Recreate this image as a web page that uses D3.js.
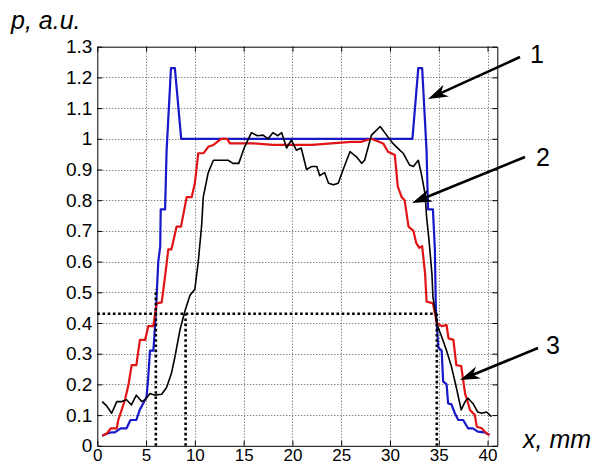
<!DOCTYPE html>
<html>
<head>
<meta charset="utf-8">
<script src="https://cdn.jsdelivr.net/npm/d3@7"></script>
<style>
html,body{margin:0;padding:0;background:#fff;}
svg{display:block;font-family:"Liberation Sans",Arial,sans-serif;}
</style>
</head>
<body>
<svg id="chart" width="594" height="465"></svg>
<script>
// ---- data ----
const xTicks = [0,5,10,15,20,25,30,35,40];
const xTickLabels = ["0","5","10","15","20","25","30","35","40"];
const yTicks = [0,0.1,0.2,0.3,0.4,0.5,0.6,0.7,0.8,0.9,1.0,1.1,1.2,1.3];
const yTickLabels = ["0","0.1","0.2","0.3","0.4","0.5","0.6","0.7","0.8","0.9","1","1.1","1.2","1.3"];

const blueX = [0.5,1.1,1.5,1.8,2.4,3.0,3.4,4.0,4.35,4.7,5.05,5.2,5.4,5.75,5.98,6.25,6.45,6.5,6.95,7.1,7.55,7.95,8.6,32.3,32.9,33.3,33.75,33.9,34.4,34.6,34.7,34.95,35.3,35.45,35.8,35.96,36.3,36.65,37.0,37.5,38.0,38.5,39.0,39.7,40.2];
const blueY = [0.033,0.041,0.044,0.044,0.057,0.057,0.084,0.084,0.117,0.138,0.16,0.214,0.31,0.31,0.42,0.6,0.65,0.77,0.77,0.96,1.23,1.23,1.0,1.0,1.23,1.23,0.96,0.77,0.77,0.64,0.45,0.32,0.31,0.21,0.2,0.138,0.135,0.106,0.084,0.084,0.057,0.057,0.046,0.044,0.035];

const redX = [0.5,0.96,1.1,1.4,2.0,2.15,2.5,2.84,3.2,3.52,4.0,4.37,4.9,5.23,5.74,6.08,6.6,6.94,7.28,7.6,8.13,8.58,9.16,9.67,10.0,10.35,10.9,11.37,11.9,12.7,13.3,13.6,16,18,20,22,24,26,27,28.1,29.3,29.8,30.5,30.8,31.2,31.5,31.9,32.4,32.7,33.0,33.3,33.6,33.75,34.4,34.8,35.3,35.8,36.0,36.5,36.8,37.3,37.7,37.9,38.2,38.7,38.9,39.4,39.9,40.2];
const redY = [0.033,0.04,0.045,0.057,0.057,0.084,0.117,0.15,0.2,0.263,0.263,0.345,0.345,0.39,0.39,0.464,0.467,0.55,0.64,0.64,0.714,0.714,0.81,0.81,0.855,0.953,0.953,0.974,0.98,1.0,1.0,0.985,0.985,0.98,0.98,0.98,0.985,0.99,0.99,1.0,0.985,0.958,0.947,0.844,0.81,0.80,0.714,0.70,0.66,0.645,0.65,0.56,0.47,0.464,0.40,0.39,0.393,0.35,0.345,0.263,0.26,0.17,0.15,0.117,0.10,0.062,0.057,0.04,0.035];

const blackX = [0.5,0.96,1.47,2.0,2.5,3.0,3.5,4.0,4.55,4.9,5.4,5.9,6.6,7.1,7.6,7.96,8.47,8.99,9.5,10.0,10.35,10.7,10.86,11.37,11.9,13.4,13.9,14.5,15.1,15.8,16.4,17.0,17.5,18.0,18.5,18.9,19.4,19.9,20.4,20.9,21.45,22.0,22.5,22.8,23.3,23.7,24.2,24.7,25.2,25.9,26.6,27.1,27.4,28.1,29.0,29.65,30.3,31.0,31.35,32.0,32.4,32.9,33.2,33.6,33.75,34.0,34.3,34.4,34.84,35.3,35.8,36.3,36.8,37.3,37.7,38.0,38.5,39.0,39.4,39.9,40.4];
const blackY = [0.144,0.13,0.106,0.144,0.144,0.15,0.133,0.165,0.144,0.15,0.17,0.165,0.168,0.19,0.236,0.29,0.377,0.44,0.49,0.51,0.6,0.72,0.81,0.89,0.93,0.93,0.92,0.92,0.974,1.02,1.01,1.012,1.0,1.02,1.01,1.02,0.97,0.996,0.963,0.97,0.9,0.91,0.91,0.88,0.89,0.855,0.85,0.855,0.9,0.958,0.94,0.92,0.93,1.012,1.04,1.012,0.985,0.963,0.953,0.915,0.91,0.93,0.888,0.82,0.746,0.67,0.56,0.486,0.393,0.355,0.31,0.258,0.19,0.117,0.144,0.155,0.138,0.11,0.106,0.11,0.095];

// threshold marker lines (dotted)
const levelY = 0.43;
const markX = [6.0, 9.05, 34.8];
const markTop = [0.51, 0.43, 0.43];

// curve number labels
const curveLabels = ["1","2","3"];

// ---- layout ----
const svg = d3.select("#chart");
const L = 97.3, R = 497.3, T = 46.7, B = 445.8;
const x = d3.scaleLinear().domain([0,41]).range([L,R]);
const y = d3.scaleLinear().domain([0,1.3]).range([B,T]);
const fs = 19;

// grid
const grid = svg.append("g").attr("stroke","#555").attr("stroke-width",1).attr("stroke-dasharray","1,2");
grid.selectAll(".gx").data(xTicks.filter(d=>d>0)).join("line")
  .attr("x1",d=>Math.round(x(d))+0.5).attr("x2",d=>Math.round(x(d))+0.5).attr("y1",T).attr("y2",B);
grid.selectAll(".gy").data(yTicks.filter(d=>d>0 && d<1.3)).join("line")
  .attr("y1",d=>Math.round(y(d))+0.5).attr("y2",d=>Math.round(y(d))+0.5).attr("x1",L).attr("x2",R);

// axes
const axB = svg.append("g").attr("transform",`translate(0,${B})`)
  .call(d3.axisBottom(x).tickValues(xTicks).tickFormat((d,i)=>xTickLabels[i]).tickSizeInner(-5).tickSizeOuter(0).tickPadding(3));
const axT = svg.append("g").attr("transform",`translate(0,${T})`)
  .call(d3.axisTop(x).tickValues(xTicks).tickFormat("").tickSizeInner(-5).tickSizeOuter(0));
const axL = svg.append("g").attr("transform",`translate(${L},0)`)
  .call(d3.axisLeft(y).tickValues(yTicks).tickFormat((d,i)=>yTickLabels[i]).tickSizeInner(-5).tickSizeOuter(0).tickPadding(5));
const axR = svg.append("g").attr("transform",`translate(${R},0)`)
  .call(d3.axisRight(y).tickValues(yTicks).tickFormat("").tickSizeInner(-5).tickSizeOuter(0));
[axB,axT,axL,axR].forEach(a=>{
  a.selectAll("text").attr("font-size",fs).attr("font-family","'Liberation Sans',Arial,sans-serif").attr("fill","#000");
  a.selectAll("line,path").attr("stroke","#000");
});
axB.selectAll("text").attr("font-size",17).attr("dy","0.72em");

// curves
const line = d3.line().x(d=>x(d[0])).y(d=>y(d[1]));
const series = [
  {xs:blueX, ys:blueY, color:"#1818c8", w:2.2},
  {xs:redX, ys:redY, color:"#e01414", w:2.2},
  {xs:blackX, ys:blackY, color:"#000", w:1.6}
];
series.forEach(s=>{
  svg.append("path").datum(s.xs.map((v,i)=>[v,s.ys[i]]))
    .attr("d",line).attr("fill","none").attr("stroke",s.color)
    .attr("stroke-width",s.w).attr("stroke-linejoin","round");
});

// dotted marker lines
const dots = svg.append("g").attr("stroke","#000").attr("stroke-width",2.6).attr("stroke-dasharray","2.6,2.6").attr("fill","none");
dots.append("line").attr("x1",x(0)).attr("x2",x(markX[2])).attr("y1",y(levelY)).attr("y2",y(levelY));
markX.forEach((mx,i)=>{
  dots.append("line").attr("x1",x(mx)).attr("x2",x(mx)).attr("y1",y(0)).attr("y2",y(markTop[i]));
});

// axis titles
svg.append("text").attr("x",11).attr("y",29).attr("font-size",25).attr("font-style","italic").text("p, a.u.");
svg.append("text").attr("x",523).attr("y",448).attr("font-size",25).attr("font-style","italic").text("x, mm");

// arrows with labels
const arrows = [
  {from:[520,57], to:[428,99], lx:537, ly:63},
  {from:[525,157], to:[412,203], lx:543, ly:166},
  {from:[538,348], to:[460,380], lx:553, ly:354}
];
arrows.forEach((a,i)=>{
  const dx=a.to[0]-a.from[0], dy=a.to[1]-a.from[1];
  const len=Math.hypot(dx,dy), ux=dx/len, uy=dy/len, px=-uy, py=ux;
  const hl=20, hw=6.5, notch=14;
  const bx=a.to[0]-ux*hl, by=a.to[1]-uy*hl;
  const nx=a.to[0]-ux*notch, ny=a.to[1]-uy*notch;
  svg.append("line").attr("x1",a.from[0]).attr("y1",a.from[1]).attr("x2",nx).attr("y2",ny)
    .attr("stroke","#000").attr("stroke-width",2.6);
  svg.append("path").attr("d",`M${a.to[0]},${a.to[1]}L${bx+px*hw},${by+py*hw}L${nx},${ny}L${bx-px*hw},${by-py*hw}Z`).attr("fill","#000");
  svg.append("text").attr("x",a.lx).attr("y",a.ly).attr("text-anchor","middle").attr("font-size",25).text(curveLabels[i]);
});
</script>
</body>
</html>
